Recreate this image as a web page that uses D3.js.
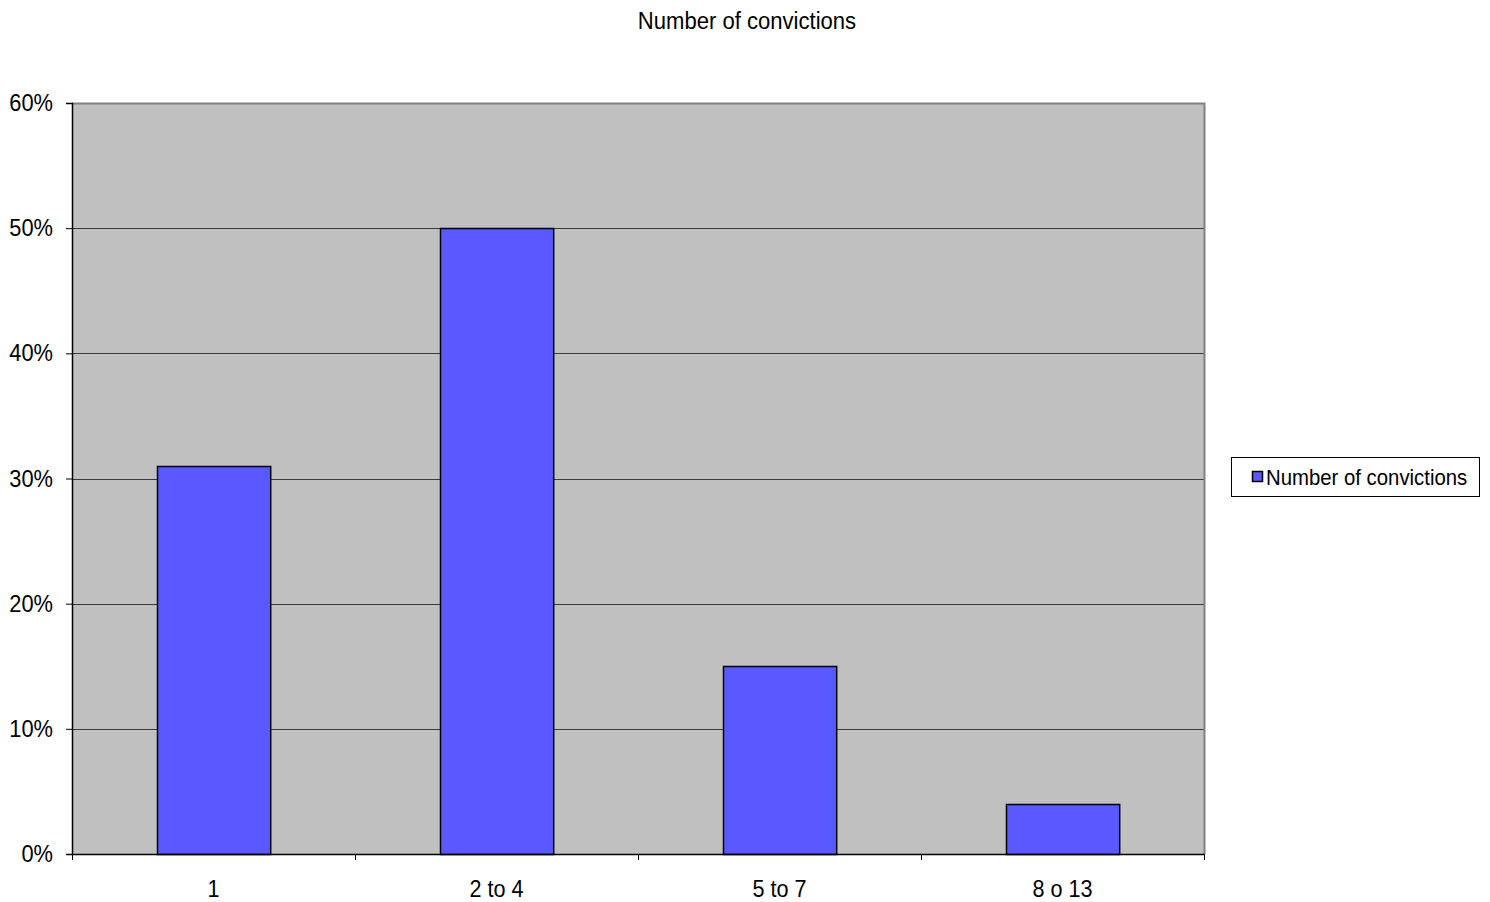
<!DOCTYPE html>
<html>
<head>
<meta charset="utf-8">
<script src="https://cdn.jsdelivr.net/npm/d3@7"></script>
<style>
  html, body { margin: 0; padding: 0; background: #fff; }
  svg { display: block; font-family: "Liberation Sans", Arial, sans-serif; }
</style>
</head>
<body>
<svg id="chart" width="1490" height="902"></svg>
<script>
// Share of offenders by number of convictions
const categories = ["1", "2 to 4", "5 to 7", "8 o 13"];
const shares = [0.31, 0.50, 0.15, 0.04];
const yTicks = [0, 0.1, 0.2, 0.3, 0.4, 0.5, 0.6];
const seriesName = "Number of convictions";
const chartTitle = "Number of convictions";

const svg = d3.select("#chart");
const plot = { left: 72, right: 1204, top: 103, bottom: 854 };
const FONT = 23;

// narrow a text horizontally around its own anchor point
function condense(sel, k) {
  sel.each(function () {
    const t = d3.select(this);
    const tx = +t.attr("x") || 0, ty = +t.attr("y") || 0;
    t.attr("transform", `translate(${tx},${ty}) scale(${k},1) translate(${-tx},${-ty})`);
  });
}

const x = d3.scaleBand()
  .domain(categories)
  .range([plot.left, plot.right])
  .paddingInner(0.6)
  .paddingOuter(0.3);

const xEdges = d3.scalePoint()
  .domain(d3.range(categories.length + 1))
  .range([plot.left, plot.right]);

const y = d3.scaleLinear().domain([0, 0.6]).range([plot.bottom, plot.top]);

// plot background
svg.append("rect")
  .attr("x", plot.left).attr("y", plot.top)
  .attr("width", plot.right - plot.left).attr("height", plot.bottom - plot.top)
  .attr("fill", "#c0c0c0");

// horizontal gridlines
svg.append("g")
  .selectAll("line")
  .data(yTicks.filter(d => d > 0 && d < 0.6))
  .join("line")
  .attr("x1", plot.left).attr("x2", plot.right)
  .attr("y1", d => Math.round(y(d)) + 0.5).attr("y2", d => Math.round(y(d)) + 0.5)
  .attr("stroke", "#3a3a3a").attr("stroke-width", 1);

// top and right border of the plot area
svg.append("path")
  .attr("d", `M${plot.left},${plot.top + 0.5}H${plot.right + 0.5}V${plot.bottom}`)
  .attr("fill", "none").attr("stroke", "#808080").attr("stroke-width", 2);

// bars
svg.append("g")
  .selectAll("rect")
  .data(categories.map((c, i) => ({ c, v: shares[i] })))
  .join("rect")
  .attr("x", d => Math.round(x(d.c)) + 0.5)
  .attr("y", d => Math.round(y(d.v)) + 0.5)
  .attr("width", x.bandwidth())
  .attr("height", d => y(0) - Math.round(y(d.v)))
  .attr("fill", "#5959ff")
  .attr("stroke", "#000").attr("stroke-width", 1.5);

// y axis
const yAxis = svg.append("g")
  .attr("transform", `translate(${plot.left},0)`)
  .call(d3.axisLeft(y).tickValues(yTicks).tickFormat(d3.format(".0%")).tickSize(6).tickPadding(13));
yAxis.select(".domain").attr("stroke", "#000").attr("stroke-width", 1.5);
yAxis.selectAll(".tick line").attr("stroke", "#000");
yAxis.selectAll("text")
  .attr("font-size", FONT).attr("fill", "#000").attr("dy", "0.33em")
  .attr("font-family", "'Liberation Sans', Arial, sans-serif")
  .call(condense, 0.95);

// x axis: ticks at category boundaries
const xAxis = svg.append("g")
  .attr("transform", `translate(0,${plot.bottom})`)
  .call(d3.axisBottom(xEdges).tickFormat("").tickSize(6).tickSizeOuter(0));
xAxis.select(".domain").attr("stroke", "#000").attr("stroke-width", 1.5);
xAxis.selectAll(".tick line").attr("stroke", "#000");

svg.append("g")
  .selectAll("text")
  .data(categories)
  .join("text")
  .attr("x", d => x(d) + x.bandwidth() / 2)
  .attr("y", 897.5)
  .attr("text-anchor", "middle")
  .attr("font-size", FONT)
  .attr("fill", "#000")
  .text(d => d)
  .call(condense, 0.94);

// title
svg.append("text")
  .attr("x", 747).attr("y", 29)
  .attr("text-anchor", "middle")
  .attr("font-size", FONT)
  .attr("fill", "#000")
  .text(chartTitle)
  .call(condense, 0.96);

// legend
const legend = svg.append("g");
legend.append("rect")
  .attr("x", 1231.5).attr("y", 457.5).attr("width", 248).attr("height", 39)
  .attr("fill", "#fff").attr("stroke", "#000").attr("stroke-width", 1);
legend.append("rect")
  .attr("x", 1252.5).attr("y", 471.5).attr("width", 10).attr("height", 10)
  .attr("fill", "#5959ff").attr("stroke", "#000").attr("stroke-width", 1.5);
legend.append("text")
  .attr("x", 1266).attr("y", 485.5)
  .attr("font-size", FONT).attr("fill", "#000")
  .text(seriesName)
  .call(condense, 0.885);
</script>
</body>
</html>
